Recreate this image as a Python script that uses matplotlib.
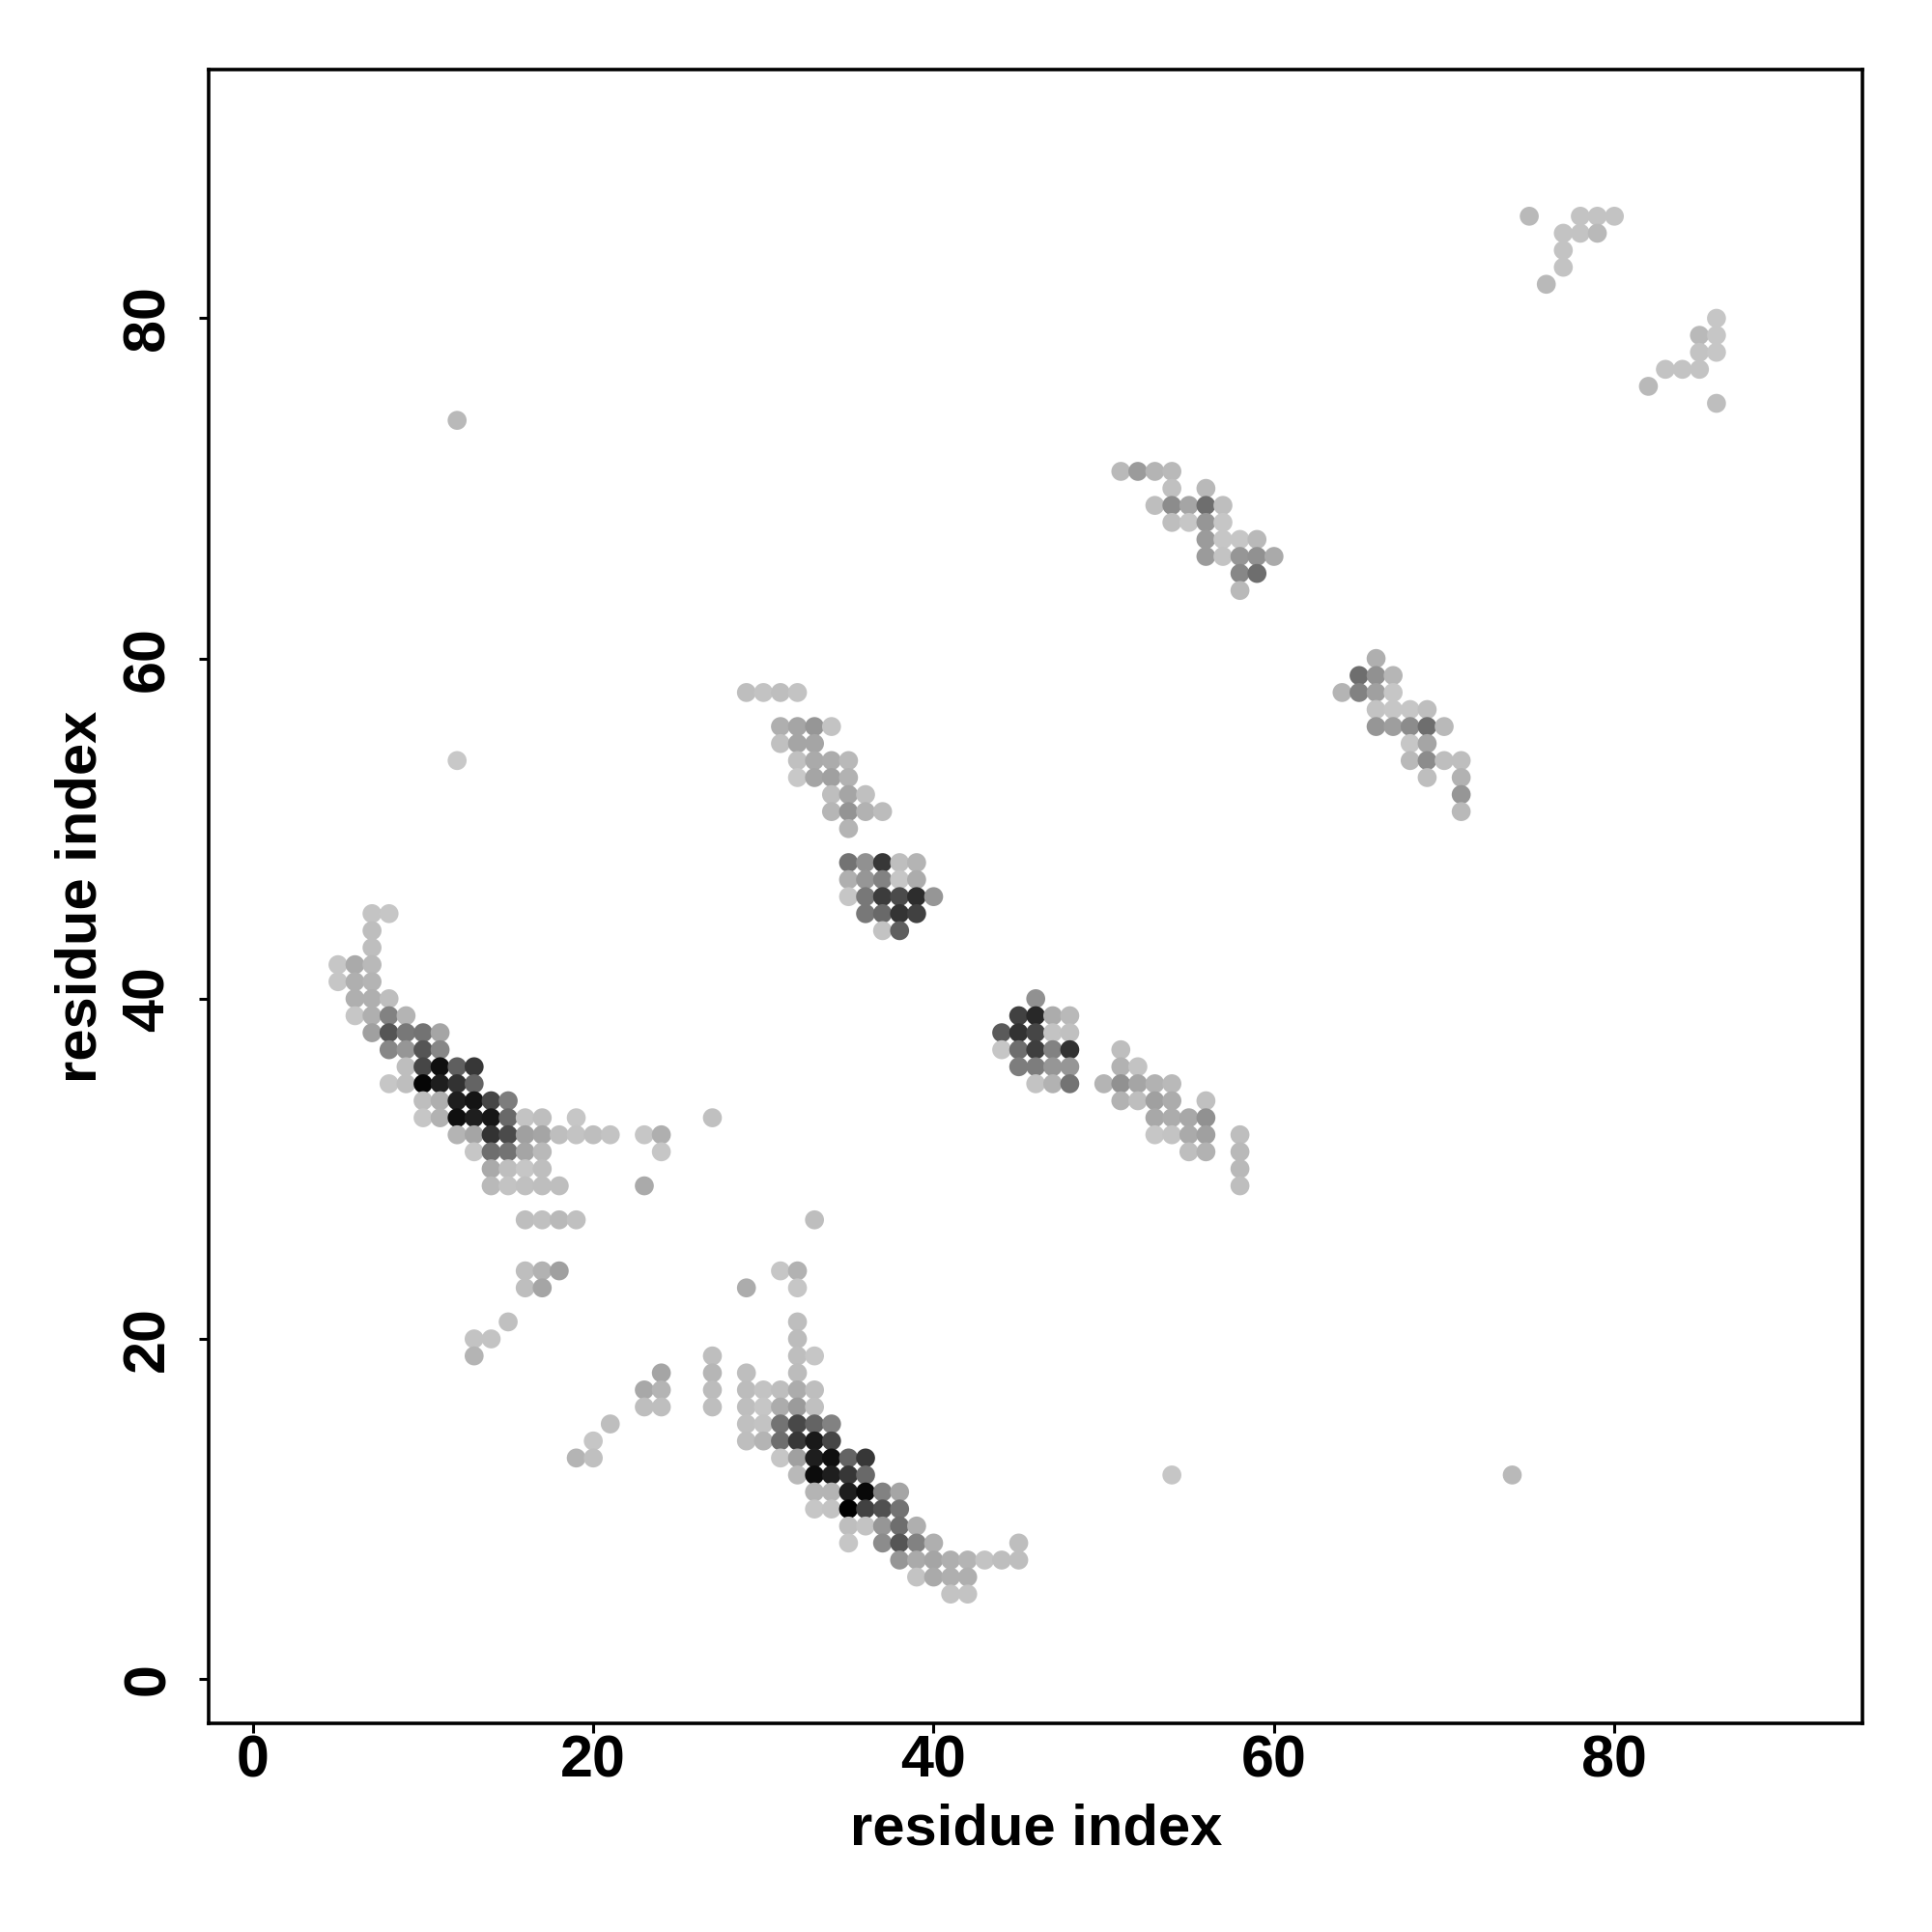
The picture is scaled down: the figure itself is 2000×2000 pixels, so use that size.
"""Residue contact map, darker dots are stronger contacts."""

import matplotlib
matplotlib.use("Agg")
import matplotlib.pyplot as plt

# one row per y value: residue x, residue y, gray level (0-255)
rows = [
    (45, [7, 8], [196, 198]),
    (44, [7], [190]),
    (43, [7], [190]),
    (42, [5, 6, 7], [198, 170, 185]),
    (41, [5, 6, 7], [198, 175, 180]),
    (40, [6, 7, 8], [175, 175, 190]),
    (39, [6, 7, 8, 9], [198, 175, 130, 180]),
    (38, [7, 8, 9, 10, 11], [160, 85, 120, 115, 165]),
    (37, [8, 9, 10, 11], [135, 150, 85, 135]),
    (36, [9, 10, 11, 12, 13], [190, 70, 15, 95, 55]),
    (35, [8, 9, 10, 11, 12, 13], [198, 190, 5, 30, 50, 100]),
    (34, [10, 11, 12, 13, 14, 15], [190, 175, 30, 20, 70, 125]),
    (33, [10, 11, 12, 13, 14, 15, 16, 17, 19], [198, 178, 15, 30, 22, 105, 195, 190, 198]),
    (32, [12, 13, 14, 15, 16, 17, 18, 19, 20, 21, 23, 24],
     [180, 165, 50, 75, 160, 165, 190, 195, 190, 195, 198, 175]),
    (31, [13, 14, 15, 16, 17, 24], [198, 110, 115, 165, 185, 198]),
    (30, [14, 15, 16, 17], [170, 190, 198, 190]),
    (29, [14, 15, 16, 17, 18, 23], [185, 195, 192, 190, 190, 170]),
    (27, [16, 17, 18, 19], [190, 192, 185, 192]),
    (24, [16, 17, 18], [190, 178, 160]),
    (23, [16, 17], [190, 165]),
]
rows_lower = [
    (33, [27], [192]),
    (27, [33], [190]),
    (24, [31, 32], [198, 178]),
    (23, [29, 32], [172, 198]),
    (21, [15, 32], [192, 190]),
    (20, [13, 14, 32], [195, 195, 188]),
    (19, [13, 27, 32, 33], [180, 190, 190, 198]),
    (18, [24, 27, 29, 32], [165, 182, 190, 188]),
    (17, [23, 24, 27, 29, 30, 31, 32, 33], [168, 180, 188, 188, 195, 190, 172, 190]),
    (16, [23, 24, 27, 29, 30, 31, 32, 33], [190, 190, 190, 190, 198, 172, 155, 192]),
    (15, [21, 29, 30, 31, 32, 33, 34], [190, 192, 195, 115, 72, 100, 130]),
    (14, [20, 29, 30, 31, 32, 33, 34], [198, 190, 180, 110, 55, 25, 70]),
    (13, [19, 20, 31, 32, 33, 34, 35, 36], [180, 192, 198, 160, 30, 15, 100, 55]),
    (12, [32, 33, 34, 35, 36], [185, 12, 30, 55, 105]),
    (11, [33, 34, 35, 36, 37, 38], [180, 180, 30, 8, 130, 165]),
    (10, [33, 34, 35, 36, 37, 38], [198, 195, 0, 65, 80, 115]),
    (9, [35, 36, 37, 38, 39], [190, 195, 150, 110, 175]),
    (8, [35, 37, 38, 39, 40, 45], [198, 140, 85, 130, 175, 190]),
    (7, [38, 39, 40, 41, 42, 43, 44, 45], [150, 170, 165, 175, 180, 195, 190, 190]),
    (6, [39, 40, 41, 42], [195, 170, 175, 175]),
    (5, [41, 42], [195, 195]),
]
rows_mid = [
    (58, [29, 30, 31, 32], [190, 195, 190, 195]),
    (56, [31, 32, 33, 34], [175, 165, 150, 195]),
    (55, [31, 32, 33], [192, 165, 165]),
    (54, [32, 33, 34, 35], [192, 170, 172, 185]),
    (53, [32, 33, 34, 35], [200, 165, 160, 178]),
    (52, [34, 35, 36], [190, 165, 192]),
    (51, [34, 35, 36, 37], [182, 148, 178, 188]),
    (50, [35], [180]),
    (48, [35, 36, 37, 38, 39], [115, 145, 55, 190, 180]),
    (47, [35, 36, 37, 38, 39], [175, 150, 130, 198, 172]),
    (46, [35, 36, 37, 38, 39, 40], [198, 120, 60, 75, 45, 150]),
    (45, [36, 37, 38, 39], [120, 105, 52, 65]),
    (44, [37, 38], [195, 95]),
    (40, [46], [145]),
    (39, [45, 46, 47, 48], [65, 40, 172, 185]),
    (38, [44, 45, 46, 47, 48], [90, 50, 70, 195, 192]),
    (37, [44, 45, 46, 47, 48, 51], [198, 110, 62, 130, 50, 190]),
    (36, [45, 46, 47, 48, 51, 52], [125, 125, 150, 150, 178, 195]),
    (35, [46, 47, 48, 50, 51, 52, 53, 54], [195, 178, 115, 180, 145, 165, 178, 185]),
    (34, [51, 52, 53, 54, 56], [178, 190, 160, 172, 192]),
    (33, [53, 54, 55, 56], [168, 172, 168, 145]),
    (32, [53, 54, 55, 56, 58], [198, 195, 170, 160, 190]),
    (31, [55, 56, 58], [190, 178, 185]),
    (30, [58], [185]),
    (29, [58], [190]),
]
rows_upper = [
    (71, [51, 52, 53, 54], [185, 155, 180, 185]),
    (70, [54, 56], [192, 185]),
    (69, [53, 54, 55, 56, 57], [190, 140, 165, 110, 190]),
    (68, [54, 55, 56, 57], [190, 198, 150, 198]),
    (67, [56, 57, 58, 59], [155, 198, 198, 185]),
    (66, [56, 57, 58, 59, 60], [155, 195, 150, 145, 170]),
    (65, [58, 59], [135, 110]),
    (64, [58], [185]),
    (60, [66], [175]),
    (59, [65, 66, 67], [110, 145, 182]),
    (58, [64, 65, 66, 67], [180, 130, 160, 198]),
    (57, [66, 67, 68, 69], [195, 198, 198, 190]),
    (56, [66, 67, 68, 69, 70], [150, 158, 140, 110, 185]),
    (55, [68, 69], [198, 165]),
    (54, [68, 69, 70, 71], [185, 140, 190, 190]),
    (53, [69, 71], [190, 178]),
    (52, [71], [150]),
    (51, [71], [185]),
    (86, [75, 78, 79, 80], [185, 195, 195, 195]),
    (85, [77, 78, 79], [195, 195, 185]),
    (84, [77], [195]),
    (83, [77], [195]),
    (82, [76], [185]),
    (80, [86], [198]),
    (79, [85, 86], [185, 198]),
    (78, [85, 86], [195, 198]),
    (77, [83, 84, 85], [195, 195, 195]),
    (76, [82], [185]),
    (75, [86], [190]),
]
# isolated contacts
single_x = [12, 12, 54, 74]
single_y = [74, 54, 12, 12]
single_gray = [185, 200, 198, 185]

ticks = [0, 20, 40, 60, 80]

xs, ys, grays = list(single_x), list(single_y), list(single_gray)
for y, row_x, row_gray in rows + rows_lower + rows_mid + rows_upper:
    xs += row_x
    ys += [y] * len(row_x)
    grays += row_gray

plt.rcParams["font.family"] = ["Liberation Sans", "DejaVu Sans"]
plt.rcParams["font.weight"] = "bold"

fig = plt.figure(figsize=(10, 10), dpi=200)
ax = fig.add_axes([0.1080, 0.1080, 0.8562, 0.8558])
colors = [(g / 255, g / 255, g / 255) for g in grays]
ax.scatter(xs, ys, s=50, c=colors, linewidths=0, clip_on=False)

ax.set_xlim(-2.6, 94.6)
ax.set_ylim(-2.6, 94.6)
ax.set_xticks(ticks)
ax.set_yticks(ticks)
ax.tick_params(length=3.5, width=1.1, labelsize=22)
ax.tick_params(axis="x", pad=0.8)
ax.tick_params(axis="y", pad=8.5)
plt.setp(ax.get_yticklabels(), rotation=90, va="center")
for side in ax.spines.values():
    side.set_linewidth(1.3)
ax.set_xlabel("residue index", fontsize=21.5, fontweight="bold", labelpad=5)
ax.set_ylabel("residue index", fontsize=21.5, fontweight="bold", labelpad=5)

fig.savefig("out.png", dpi=200)
